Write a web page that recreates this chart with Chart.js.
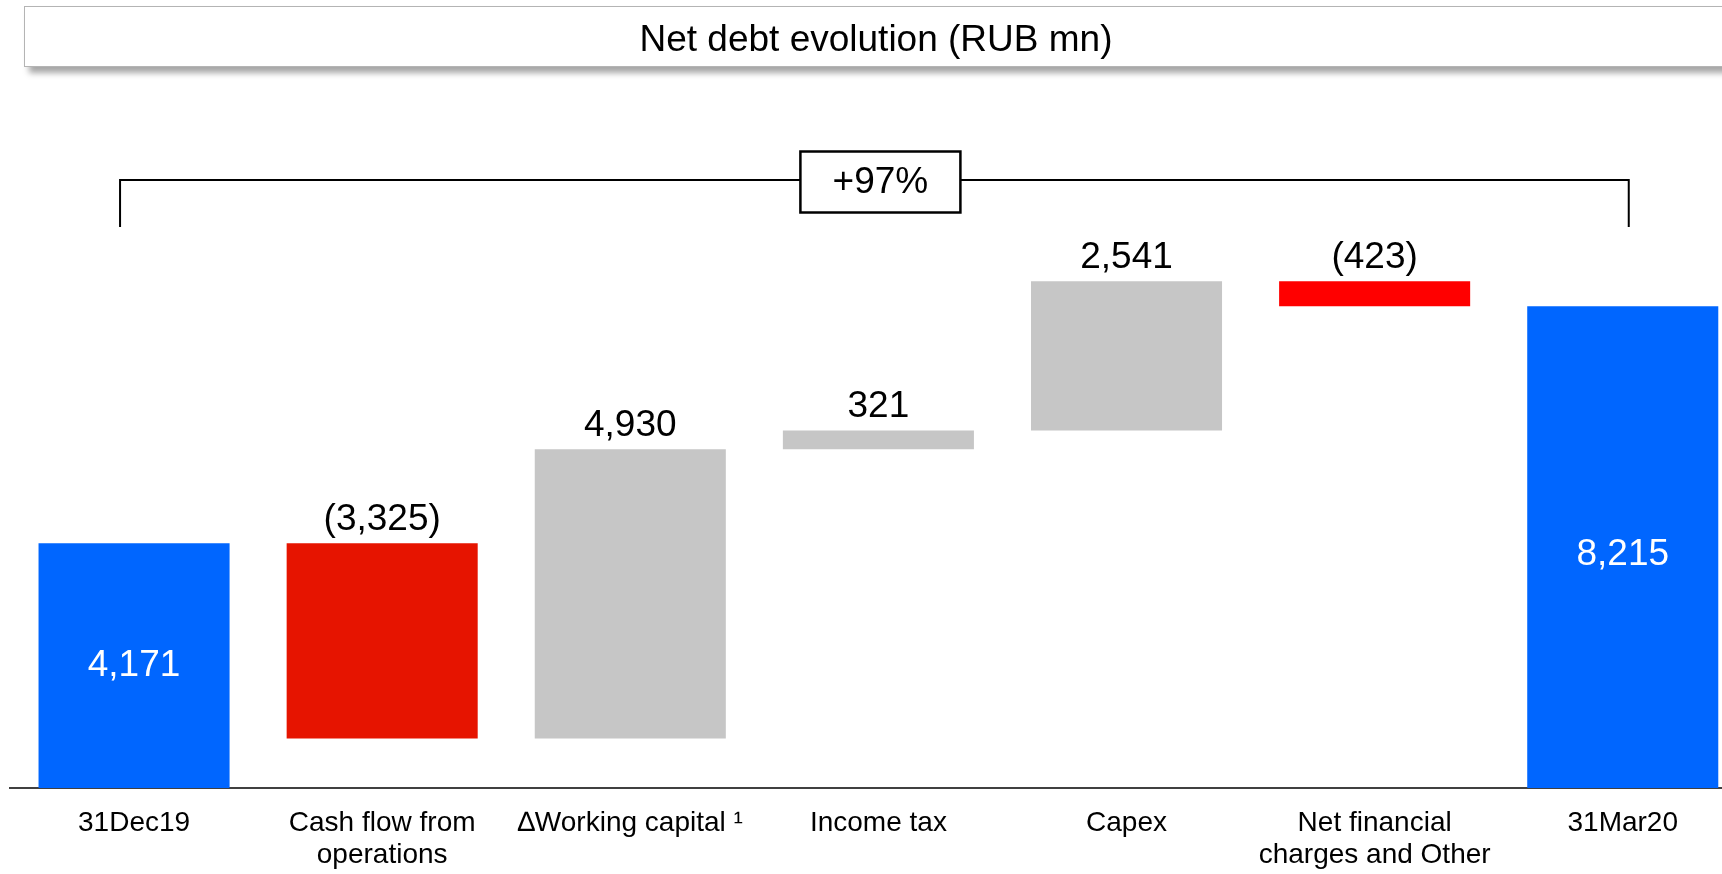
<!DOCTYPE html>
<html>
<head>
<meta charset="utf-8">
<title>Net debt evolution (RUB mn)</title>
<script src="https://cdn.jsdelivr.net/npm/chart.js@4.4.1/dist/chart.umd.min.js"></script>
<style>
  html, body { margin: 0; padding: 0; background: #fff; overflow: hidden; }
  #wrap { position: relative; width: 1722px; height: 874px; }
  #chart { position: absolute; left: 0; top: 0; }
  #title {
    position: absolute; left: 24px; top: 6px;
    width: 1702px; height: 55px; padding-top: 4px;
    border: 1px solid #b4b4b4; background: #fff;
    box-shadow: 5px 6px 6px rgba(0, 0, 0, 0.35);
    font: 37px "Liberation Sans", Arial, sans-serif; color: #000;
    display: flex; align-items: center; justify-content: center;
  }
</style>
</head>
<body>
<div id="wrap">
  <canvas id="chart" width="1722" height="874"></canvas>
  <div id="title">Net debt evolution (RUB mn)</div>
</div>
<script>
// Waterfall steps: opening balance, movements, closing balance
const categories = [
  '31Dec19',
  ['Cash flow from', 'operations'],
  '\u2206Working capital \u00B9',
  'Income tax',
  'Capex',
  ['Net financial', 'charges and Other'],
  '31Mar20'
];
const changes = [4171, -3325, 4930, 321, 2541, -423, 8215];
const isTotal = [true, false, false, false, false, false, true];
const barColors = ['#0066ff', '#e61400', '#c6c6c6', '#c6c6c6', '#c6c6c6', '#ff0000', '#0066ff'];

// floating [from, to] ranges for each bar
let running = 0;
const ranges = changes.map((v, i) => {
  if (isTotal[i]) {
    running = v;
    return [0, v];
  }
  const from = running;
  running += v;
  return [from, running];
});

const growthPct = Math.round((changes[6] / changes[0] - 1) * 100);
const FONT = '"Liberation Sans", Arial, sans-serif';

function formatValue(v) {
  const s = Math.abs(v).toLocaleString('en-US');
  return v < 0 ? '(' + s + ')' : s;
}

// value labels plus the bracket with the growth box
const annotations = {
  id: 'annotations',
  afterDatasetsDraw(chart) {
    const ctx = chart.ctx;
    const bars = chart.getDatasetMeta(0).data;
    ctx.save();
    ctx.font = '37px ' + FONT;
    ctx.textAlign = 'center';

    bars.forEach((bar, i) => {
      const text = formatValue(changes[i]);
      if (isTotal[i]) {
        ctx.fillStyle = '#fff';
        ctx.textBaseline = 'middle';
        ctx.fillText(text, bar.x, (bar.y + bar.base) / 2 + (i > 0 ? 8 : 0));
      } else {
        ctx.fillStyle = '#000';
        ctx.textBaseline = 'alphabetic';
        ctx.fillText(text, bar.x, Math.min(bar.y, bar.base) - 13);
      }
    });

    const left = bars[0].x - 14;
    const right = bars[bars.length - 1].x + 6;
    const lineY = 180, legY = 227;
    const boxW = 160, boxH = 61;
    const boxX = (left + right) / 2 + 6 - boxW / 2;
    const boxY = lineY + 2 - boxH / 2;

    ctx.strokeStyle = '#000';
    ctx.lineWidth = 2;
    ctx.beginPath();
    ctx.moveTo(left, legY);
    ctx.lineTo(left, lineY);
    ctx.lineTo(boxX, lineY);
    ctx.moveTo(boxX + boxW, lineY);
    ctx.lineTo(right, lineY);
    ctx.lineTo(right, legY);
    ctx.stroke();

    ctx.lineWidth = 2.5;
    ctx.strokeRect(boxX, boxY, boxW, boxH);
    ctx.fillStyle = '#000';
    ctx.textBaseline = 'middle';
    ctx.fillText('+' + growthPct + '%', boxX + boxW / 2, boxY + boxH / 2 + 1);
    ctx.restore();
  }
};

Chart.defaults.font.family = FONT;

new Chart(document.getElementById('chart'), {
  type: 'bar',
  data: {
    datasets: [{
      data: ranges.map((r, i) => ({ x: i, y: r })),
      backgroundColor: barColors,
      borderWidth: 0,
      barPercentage: 1,
      categoryPercentage: 0.77
    }]
  },
  options: {
    responsive: false,
    animation: false,
    devicePixelRatio: 1,
    layout: { padding: { top: 90, left: 10, right: 0, bottom: 0 } },
    plugins: {
      legend: { display: false },
      tooltip: { enabled: false }
    },
    scales: {
      x: {
        type: 'linear',
        min: -0.5,
        max: 6.4,
        offset: false,
        grid: { display: false, drawTicks: false },
        border: { display: true, color: '#404040', width: 2 },
        afterBuildTicks: (axis) => {
          axis.ticks = categories.map((c, i) => ({ value: i }));
        },
        afterFit: (axis) => { axis.height = 86; },
        ticks: {
          autoSkip: false,
          maxRotation: 0,
          minRotation: 0,
          padding: 19,
          color: '#000',
          font: { size: 28, lineHeight: 1.15 },
          callback: (value) => categories[value] ?? ''
        }
      },
      y: {
        display: false,
        min: 0,
        max: 11900
      }
    }
  },
  plugins: [annotations]
});
</script>
</body>
</html>
